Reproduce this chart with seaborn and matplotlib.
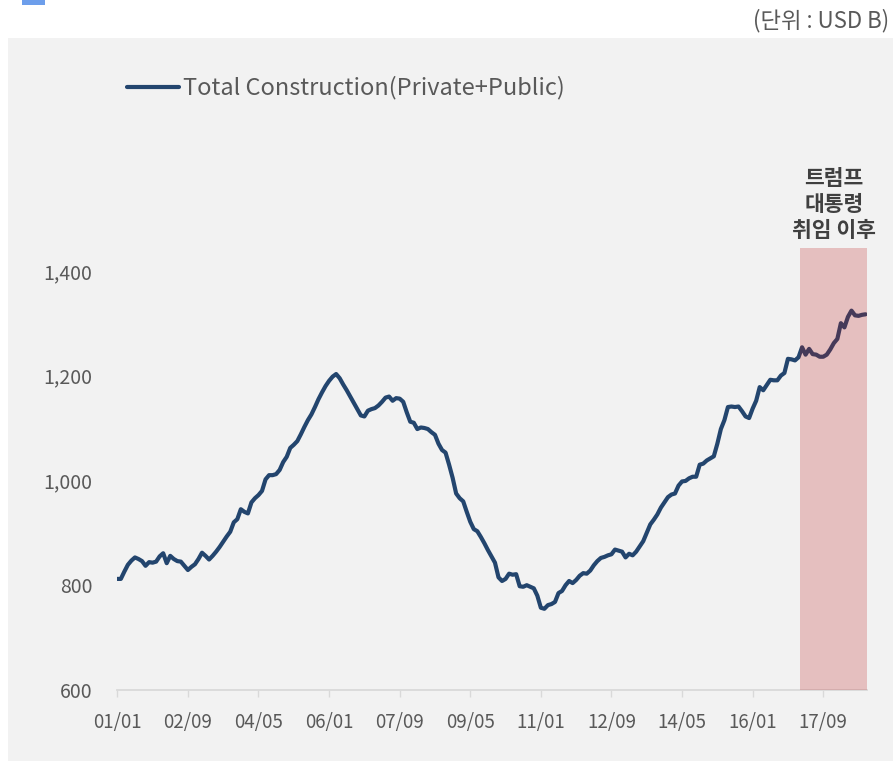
import numpy as np
import pandas as pd
import matplotlib.pyplot as plt
import seaborn as sns

# ── Data: US total construction spending, monthly, USD B ────────────────────────

y2001 = [812, 812, 826, 839, 847, 853, 850, 846, 837, 844, 843, 845]
y2002 = [855, 861, 842, 856, 850, 846, 845, 837, 829, 835, 840, 850]
y2003 = [862, 856, 849, 856, 864, 873, 883, 893, 902, 920, 926, 945]
y2004 = [940, 937, 958, 966, 972, 980, 1002, 1010, 1010, 1012, 1020, 1035]
y2005 = [1045, 1062, 1068, 1075, 1088, 1102, 1115, 1126, 1140, 1155, 1168, 1180]
y2006 = [1190, 1198, 1203, 1195, 1183, 1172, 1160, 1148, 1136, 1124, 1122, 1133]
y2007 = [1136, 1138, 1143, 1150, 1158, 1160, 1152, 1157, 1156, 1150, 1130, 1112]
y2008 = [1110, 1098, 1101, 1100, 1098, 1092, 1087, 1070, 1058, 1053, 1030, 1005]
y2009 = [975, 966, 960, 940, 921, 907, 903, 892, 880, 867, 855, 843]
y2010 = [815, 808, 812, 822, 820, 821, 798, 797, 800, 797, 794, 780]
y2011 = [757, 755, 762, 764, 768, 785, 789, 800, 808, 804, 810, 818]
y2012 = [823, 822, 828, 838, 846, 852, 854, 857, 859, 868, 866, 864]
y2013 = [853, 860, 857, 864, 874, 884, 900, 916, 925, 935, 948, 958]
y2014 = [968, 973, 975, 990, 998, 999, 1004, 1007, 1007, 1030, 1032, 1038]
y2015 = [1042, 1046, 1070, 1098, 1115, 1140, 1141, 1140, 1141, 1132, 1122, 1119]
y2016 = [1137, 1152, 1178, 1172, 1182, 1192, 1191, 1191, 1200, 1205, 1232, 1231]
y2017 = [1229, 1235, 1254, 1240, 1251, 1241, 1240, 1236, 1236, 1240, 1250, 1262]
y2018 = [1270, 1300, 1292, 1312, 1324, 1315, 1314, 1316, 1317]

tick_labels = ['01/01', '02/09', '04/05', '06/01', '07/09', '09/05',
               '11/01', '12/09', '14/05', '16/01', '17/09']
y_ticks = [600, 800, 1000, 1200, 1400]

series_name = 'Total Construction(Private+Public)'
shade_label = '트럼프\n대통령\n취임 이후'
shade_start = '17/03'      # first month of the shaded period
shade_top = 1444

values = (y2001 + y2002 + y2003 + y2004 + y2005 + y2006 + y2007 + y2008 + y2009
          + y2010 + y2011 + y2012 + y2013 + y2014 + y2015 + y2016 + y2017 + y2018)
months = pd.date_range('2001-01-01', periods=len(values), freq='MS').strftime('%y/%m')
df = pd.DataFrame({'idx': np.arange(len(values)), 'month': months, 'value': values})

LINE = '#23456E'
TEXT = '#595959'

# ── Figure ─────────────────────────────────────────────────────────────────────

sns.set_theme(style='white')
plt.rcParams['font.family'] = ['Noto Sans CJK KR', 'DejaVu Sans']

fig = plt.figure(figsize=(8.93, 7.61), dpi=100, facecolor='white')
fig.patches.append(plt.Rectangle((8 / 893, 0), 1, 723 / 761, transform=fig.transFigure,
                                 facecolor='#F2F2F2', edgecolor='none', zorder=-5))
fig.patches.append(plt.Rectangle((22 / 893, 756 / 761), 23 / 893, 5 / 761,
                                 transform=fig.transFigure, facecolor='#6D9EEB',
                                 edgecolor='none', zorder=-5))

ax = fig.add_axes([117.3 / 893, 71 / 761, (867 - 117.3) / 893, (690 - 166) / 761])
ax.set_facecolor('none')

sns.lineplot(data=df, x='idx', y='value', ax=ax, color=LINE, linewidth=3,
             label=series_name, zorder=2)

# shaded period (drawn over the line, semi-transparent)
i0 = df.index[df['month'] == shade_start][0]
i1 = df['idx'].iloc[-1]
ax.fill_between([i0 - 0.5, i1 + 0.5], 600, shade_top, color='#BD1616', alpha=0.23,
                linewidth=0, zorder=3)
ax.text((i0 - 0.5 + i1 + 0.5) / 2, shade_top + 12, shade_label, ha='center', va='bottom',
        fontsize=15.5, fontweight='bold', color='#404040', linespacing=1.3)

ax.set_xlim(0, 212.4)
ax.set_ylim(600, 1600)
ax.set_xticks(np.arange(len(tick_labels)) * 20)
ax.set_xticklabels(tick_labels)
ax.set_yticks(y_ticks)
ax.set_yticklabels([f'{v:,}' for v in y_ticks])
ax.set(xlabel='', ylabel='')

for s in ['top', 'right', 'left']:
    ax.spines[s].set_visible(False)
ax.spines['bottom'].set_color('#D9D9D9')
ax.spines['bottom'].set_linewidth(1.3)
ax.tick_params(axis='x', length=5, width=1, color='#D9D9D9', pad=11,
               labelsize=13.5, labelcolor=TEXT, bottom=True)
ax.tick_params(axis='y', length=0, pad=18, labelsize=14, labelcolor=TEXT)

ax.legend(loc='center left', bbox_to_anchor=(115 / 893, 1 - 88 / 761),
          bbox_transform=fig.transFigure, frameon=False, fontsize=17,
          handlelength=2.2, handletextpad=0.2, labelcolor=TEXT, borderpad=0)

fig.text(889 / 893, 1 - 21 / 761, '(단위 : USD B)', ha='right', va='center',
         fontsize=16, color=TEXT)

fig.savefig('out.png', dpi=100, facecolor='white')
